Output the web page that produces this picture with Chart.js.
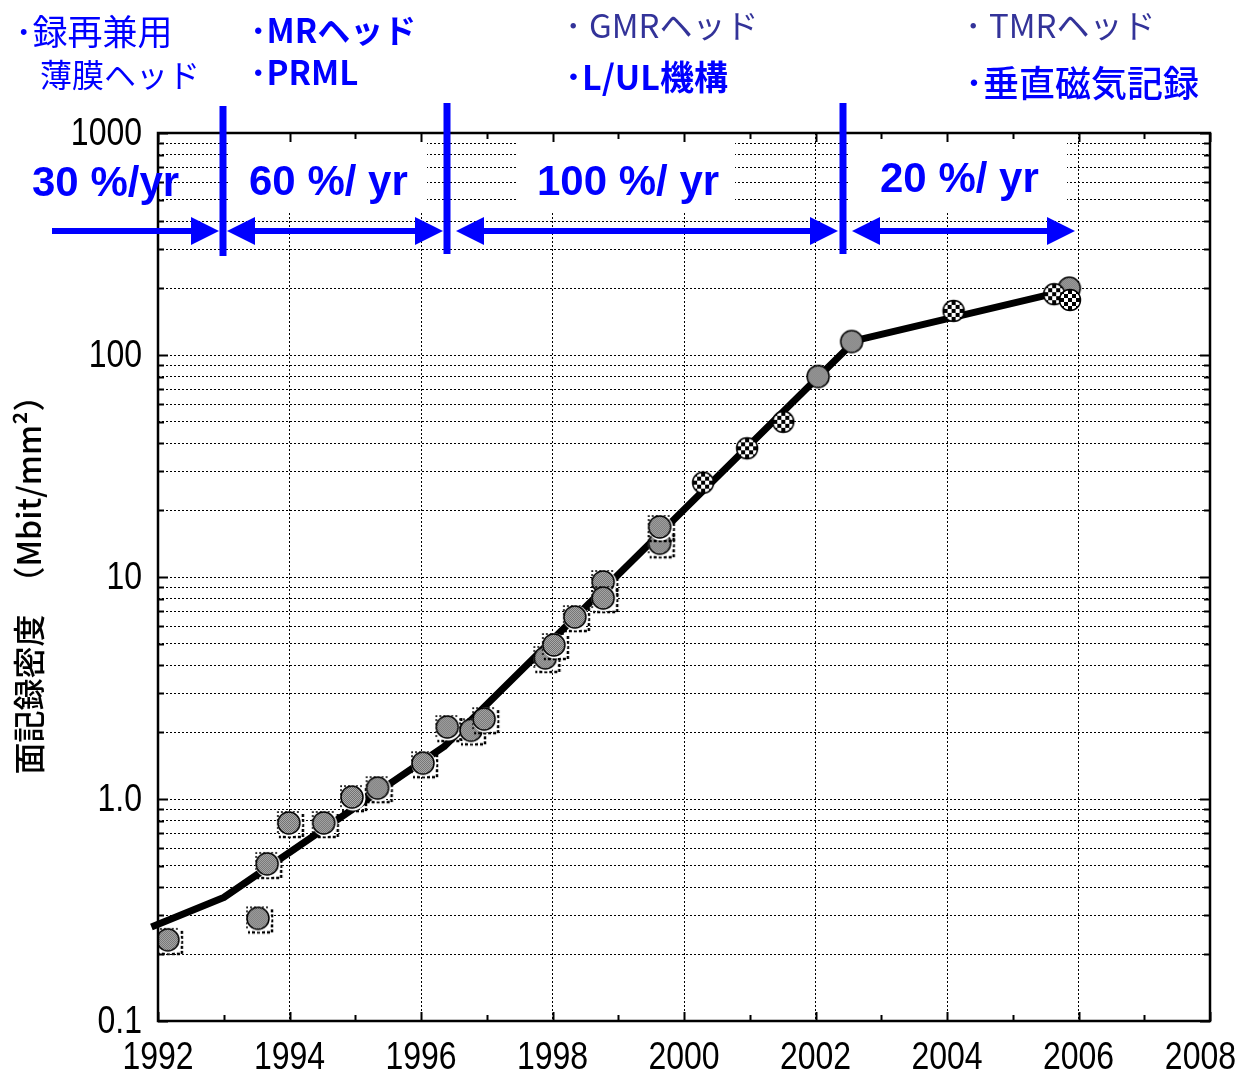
<!DOCTYPE html>
<html>
<head>
<meta charset="utf-8">
<script src="https://cdn.jsdelivr.net/npm/chart.js@4.4.1/dist/chart.umd.min.js"></script>
<style>
  html, body { margin: 0; padding: 0; background: #ffffff; }
  canvas { display: block; }
</style>
</head>
<body>
<canvas id="densityChart" width="1239" height="1076"></canvas>
<script>
// thick trend line
const trendYears = [1991.9, 1993.0, 1996.35, 2002.6, 2005.65];
const trendValues = [0.265, 0.36, 1.72, 116, 190];

// gray dots with the dotted drop shadow (1992 - 1999)
const shadowYears = [1992.15, 1993.52, 1993.66, 1993.99, 1994.52, 1994.95, 1995.34, 1996.03, 1996.4, 1996.76, 1996.96, 1997.89, 1998.02, 1998.34, 1998.77, 1998.77, 1999.63, 1999.63];
const shadowValues = [0.232, 0.29, 0.51, 0.78, 0.78, 1.02, 1.12, 1.45, 2.11, 2.04, 2.29, 4.32, 4.94, 6.6, 9.5, 8.04, 14.2, 16.8];

// plain gray dots
const grayYears = [2002.04, 2002.55, 2005.86];
const grayValues = [80, 115, 200];

// checkered dots
const checkYears = [2000.29, 2000.96, 2001.51, 2004.1, 2005.63, 2005.87];
const checkValues = [26.6, 38, 50, 158, 188, 177];

// axes
const decadeStarts = [0.1, 1, 10, 100];
const yLabelValues = [0.1, 1, 10, 100, 1000];
const yLabelText = ["0.1", "1.0", "10", "100", "1000"];
const xLabelYears = [1992, 1994, 1996, 1998, 2000, 2002, 2004, 2006, 2008];
const yTitle = "面記録密度　（Mbit/mm²）";

// growth-rate bands
const rateLabels = ["30 %/yr", "60 %/ yr", "100 %/ yr", "20 %/ yr"];

const yGridValues = [];
decadeStarts.forEach((d) => {
  for (let m = 1; m <= 9; m++) yGridValues.push(d * m);
});
yGridValues.push(1000);

const xTickYears = [];
for (let yr = 1992; yr <= 2008; yr++) xTickYears.push(yr);

const toPoints = (xs, ys) => xs.map((x, i) => ({ x: x, y: ys[i] }));

const blue = "#0000ff";
const slate = "#333399";
const cjkFont = '"Noto Sans CJK JP", "Noto Sans", sans-serif';
const latinFont = '"Liberation Sans", Arial, sans-serif';

// marker images
function makeTile(kind) {
  const t = document.createElement("canvas");
  const g = t.getContext("2d");
  if (kind === "check") {
    t.width = t.height = 8;
    g.fillStyle = "#ffffff";
    g.fillRect(0, 0, 8, 8);
    g.fillStyle = "#000000";
    g.fillRect(0, 0, 4, 4);
    g.fillRect(4, 4, 4, 4);
  } else {
    t.width = t.height = 2;
    g.fillStyle = "#b4b4b4";
    g.fillRect(0, 0, 2, 2);
    g.fillStyle = "#6a6a6a";
    g.fillRect(0, 0, 1, 1);
    g.fillRect(1, 1, 1, 1);
  }
  return t;
}

function makeMarker(kind) {
  const size = 36;
  const c = document.createElement("canvas");
  c.width = c.height = size;
  const g = c.getContext("2d");
  const cx = size / 2, cy = size / 2;
  const r = kind === "check" ? 10.5 : 11;
  if (kind === "shadow") {
    // broken shadow frame, mostly right and bottom
    g.strokeStyle = "#000000";
    g.lineWidth = 2.5;
    g.setLineDash([3, 2]);
    g.beginPath();
    g.moveTo(cx + 14, cy - 9);
    g.lineTo(cx + 14, cy + 14);
    g.lineTo(cx - 10, cy + 14);
    g.stroke();
    g.lineWidth = 1.5;
    g.setLineDash([2, 2]);
    g.beginPath();
    g.moveTo(cx - 11, cy + 10);
    g.lineTo(cx - 11, cy - 11);
    g.lineTo(cx + 10, cy - 11);
    g.stroke();
    g.setLineDash([]);
    g.fillStyle = "#ffffff";
    g.beginPath();
    g.arc(cx + 1, cy + 1, r + 1.5, 0, Math.PI * 2);
    g.fill();
  }
  g.fillStyle = g.createPattern(makeTile(kind), "repeat");
  g.beginPath();
  g.arc(cx, cy, r, 0, Math.PI * 2);
  g.fill();
  g.lineWidth = 1.5;
  g.strokeStyle = "#000000";
  g.stroke();
  return c;
}

function narrowText(ctx, text, x, y, align) {
  ctx.save();
  ctx.translate(x, y);
  ctx.scale(0.82, 1);
  ctx.textAlign = align;
  ctx.fillText(text, 0, 0);
  ctx.restore();
}

function drawArrow(ctx, x1, x2, y, headLeft, headRight) {
  const hl = 28, hh = 14;
  const s1 = headLeft ? x1 + hl - 2 : x1;
  const s2 = headRight ? x2 - hl + 2 : x2;
  ctx.fillRect(s1, y - 3, s2 - s1, 6);
  if (headRight) {
    ctx.beginPath();
    ctx.moveTo(x2, y);
    ctx.lineTo(x2 - hl, y - hh);
    ctx.lineTo(x2 - hl, y + hh);
    ctx.closePath();
    ctx.fill();
  }
  if (headLeft) {
    ctx.beginPath();
    ctx.moveTo(x1, y);
    ctx.lineTo(x1 + hl, y - hh);
    ctx.lineTo(x1 + hl, y + hh);
    ctx.closePath();
    ctx.fill();
  }
}

const decorPlugin = {
  id: "decor",
  beforeDraw(chart) {
    const ctx = chart.ctx;
    ctx.save();
    ctx.fillStyle = "#ffffff";
    ctx.fillRect(0, 0, chart.width, chart.height);
    ctx.restore();
  },
  beforeDatasetsDraw(chart) {
    // white text boxes that hide the grid behind the rate labels
    const ctx = chart.ctx;
    const top = chart.chartArea.top;
    ctx.save();
    ctx.fillStyle = "#ffffff";
    [[228, 427], [517, 735], [850, 1067]].forEach(([a, b]) => {
      ctx.fillRect(a, top, b - a, 212 - top);
    });
    ctx.restore();
  },
  afterDatasetsDraw(chart) {
    const ctx = chart.ctx;
    const { left, right, top, bottom } = chart.chartArea;
    const xs = chart.scales.x, ys = chart.scales.y;
    ctx.save();
    ctx.strokeStyle = "#000000";
    ctx.lineWidth = 2;
    ctx.beginPath();
    yGridValues.forEach((v) => {
      const py = Math.round(ys.getPixelForValue(v)) + 0.5;
      const len = yLabelValues.includes(v) ? 10 : 6;
      ctx.moveTo(left, py);
      ctx.lineTo(left + len, py);
      ctx.moveTo(right, py);
      ctx.lineTo(right - len, py);
    });
    xTickYears.forEach((yr) => {
      const px = Math.round(xs.getPixelForValue(yr)) + 0.5;
      const len = yr % 2 === 0 ? 9 : 6;
      ctx.moveTo(px, bottom);
      ctx.lineTo(px, bottom - len);
      ctx.moveTo(px, top);
      ctx.lineTo(px, top + len);
    });
    ctx.stroke();
    ctx.lineWidth = 2.5;
    ctx.strokeRect(left, top, right - left, bottom - top);

    // tick labels
    ctx.fillStyle = "#000000";
    ctx.font = "39px " + latinFont;
    ctx.textBaseline = "middle";
    yLabelValues.forEach((v, i) => {
      narrowText(ctx, yLabelText[i], left - 16, ys.getPixelForValue(v) + 1, "right");
    });
    xLabelYears.forEach((yr) => {
      const label = String(yr);
      const w = ctx.measureText(label).width * 0.82;
      let px = xs.getPixelForValue(yr);
      if (px + w / 2 > chart.width - 3) px = chart.width - 3 - w / 2;
      narrowText(ctx, label, px, bottom + 37, "center");
    });
    ctx.restore();
  },
  afterDraw(chart) {
    const ctx = chart.ctx;
    ctx.save();

    // era separators and arrows
    ctx.fillStyle = blue;
    ctx.fillRect(219.5, 106, 7, 150);
    ctx.fillRect(443.5, 103, 7, 151);
    ctx.fillRect(839.5, 103, 7, 151);
    drawArrow(ctx, 52, 219, 231, false, true);
    drawArrow(ctx, 227, 443, 231, true, true);
    drawArrow(ctx, 456, 838, 231, true, true);
    drawArrow(ctx, 852, 1075, 231, true, true);

    // growth rates
    ctx.font = "bold 42px " + latinFont;
    ctx.textBaseline = "alphabetic";
    ctx.textAlign = "left";
    ctx.fillText(rateLabels[0], 32, 196);
    ctx.fillText(rateLabels[1], 249, 195);
    ctx.fillText(rateLabels[2], 537, 195);
    ctx.fillText(rateLabels[3], 880, 192);

    // technology notes
    const notes = [
      ["･録再兼用", 15, 32, "400 35px", blue],
      ["薄膜ヘッド", 40, 75, "400 32px", blue],
      ["･MRヘッド", 250, 30, "bold 33px", blue],
      ["･PRML", 250, 72, "bold 33px", blue],
      ["･ GMRヘッド", 565, 25, "400 33px", slate],
      ["･L/UL機構", 565, 77, "bold 34px", blue],
      ["･ TMRヘッド", 965, 25, "400 33px", slate],
      ["･垂直磁気記録", 965, 83, "500 36px", blue],
    ];
    ctx.textBaseline = "middle";
    notes.forEach(([text, x, y, font, color]) => {
      ctx.font = font + " " + cjkFont;
      ctx.fillStyle = color;
      ctx.fillText(text, x, y);
    });
    ctx.restore();
  },
};

const ctx = document.getElementById("densityChart").getContext("2d");

new Chart(ctx, {
  type: "scatter",
  data: {
    datasets: [
      {
        data: toPoints(trendYears, trendValues),
        showLine: true,
        borderColor: "#000000",
        borderWidth: 7,
        borderJoinStyle: "round",
        pointRadius: 0,
        tension: 0,
        clip: false,
        order: 4,
      },
      {
        data: toPoints(shadowYears, shadowValues),
        pointStyle: makeMarker("shadow"),
        pointRadius: 11,
        order: 3,
      },
      {
        data: toPoints(grayYears, grayValues),
        pointStyle: makeMarker("gray"),
        pointRadius: 11,
        order: 2,
      },
      {
        data: toPoints(checkYears, checkValues),
        pointStyle: makeMarker("check"),
        pointRadius: 10,
        order: 1,
      },
    ],
  },
  options: {
    responsive: false,
    animation: false,
    devicePixelRatio: 1,
    events: [],
    layout: { padding: { top: 133, right: 29, left: 0, bottom: 0 } },
    plugins: {
      legend: { display: false },
      tooltip: { enabled: false },
    },
    scales: {
      x: {
        type: "linear",
        min: 1992,
        max: 2008,
        afterBuildTicks: (scale) => {
          scale.ticks = xTickYears.map((v) => ({ value: v }));
        },
        afterFit: (scale) => {
          scale.height = 55;
        },
        ticks: { display: false },
        grid: {
          drawTicks: false,
          lineWidth: 1,
          color: (c) => {
            const v = c.tick ? c.tick.value : 0;
            return v % 2 === 0 && v > 1992 && v < 2008 ? "#000000" : "rgba(0,0,0,0)";
          },
        },
        border: { display: false, dash: [2, 2] },
      },
      y: {
        type: "logarithmic",
        min: 0.1,
        max: 1000,
        afterBuildTicks: (scale) => {
          scale.ticks = yGridValues.map((v) => ({ value: v }));
        },
        afterFit: (scale) => {
          scale.width = 158;
        },
        ticks: { display: false },
        grid: { drawTicks: false, lineWidth: 1, color: "#000000" },
        border: { display: false, dash: [2, 2] },
        title: {
          display: true,
          text: yTitle,
          color: "#000000",
          font: { family: cjkFont, size: 32, weight: "500" },
          padding: { top: 10, bottom: 0 },
        },
      },
    },
  },
  plugins: [decorPlugin],
});
</script>
</body>
</html>
